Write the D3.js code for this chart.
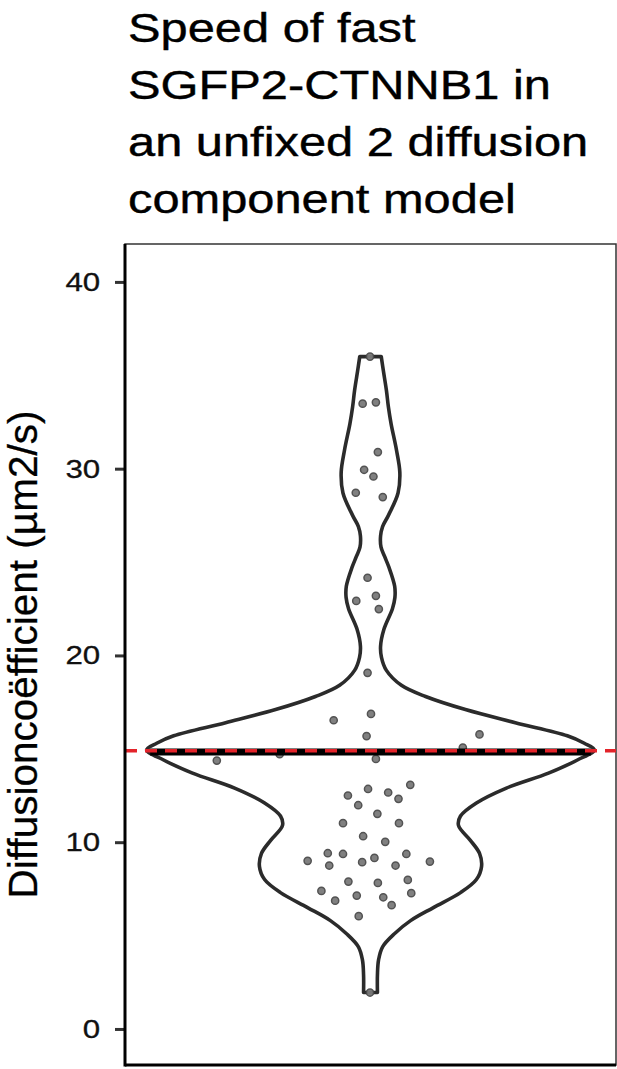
<!DOCTYPE html>
<html lang="en">
  <head>
    <meta charset="UTF-8" />
    <title>Speed of fast SGFP2-CTNNB1</title>
    <script src="https://d3js.org/d3.v7.min.js"></script>
    <style>
      body {
        margin: 0;
        background: white;
        font-family: 'Liberation Sans', Arial, sans-serif;
      }
      svg {
        display: block;
      }
    </style>
  </head>
  <body>
    <svg width="617" height="1069"></svg>

    <script>
      const titleLines = [
        'Speed of fast',
        'SGFP2-CTNNB1 in',
        'an unfixed 2 diffusion',
        'component model',
      ];
      const yLabel = 'Diffusioncoëfficient (µm2/s)';
      const yTicks = [0, 10, 20, 30, 40];
      const group = 'fast';

      // diffusion coefficients of each cell (µm2/s) and their horizontal jitter
      const diffValues = [
        36.0, 33.48, 33.55, 30.89, 29.94, 29.58, 28.71, 28.48, 24.16, 23.19,
        22.92, 22.48, 19.07, 16.87, 16.53, 15.68, 15.77, 15.07, 14.71, 14.37,
        14.46, 13.07, 12.85, 12.66, 12.5, 12.32, 11.98, 11.52, 11.02, 11.02,
        10.32, 10.02, 9.41, 9.37, 9.37, 9.0, 9.16, 8.93, 8.96, 8.75, 8.75,
        7.89, 7.82, 7.98, 7.39, 7.14, 7.27, 6.87, 7.05, 6.63, 6.04, 1.95,
      ];
      const jitter = [
        -0.001, -0.016, 0.011, 0.015, -0.013, 0.006, -0.03, 0.025, -0.006,
        0.011, -0.029, 0.017, -0.006, 0.001, -0.075, -0.008, 0.222, 0.188,
        -0.185, -0.313, 0.011, 0.081, -0.005, 0.036, -0.046, 0.057, -0.025,
        0.014, -0.056, 0.058, -0.015, 0.03, -0.087, -0.056, 0.073, -0.128,
        0.008, -0.017, 0.121, -0.084, 0.051, -0.045, 0.015, 0.076, -0.1,
        -0.028, 0.083, -0.072, 0.026, 0.043, -0.024, -0.001,
      ];

      // violin outline: relative density at each value
      const profileValues = [
        36.0, 35.2, 34.2, 33.3, 32.4, 31.0, 29.8, 28.7, 27.5, 26.9, 26.4, 25.8,
        25.3, 24.7, 23.7, 23.1, 22.5, 21.4, 20.5, 19.9, 19.2, 18.4, 17.8, 17.1,
        16.4, 15.7, 15.3, 14.94, 14.4, 13.7, 12.9, 12.1, 11.4, 10.9, 10.1, 9.4,
        8.7, 8.0, 7.3, 6.5, 5.8, 5.1, 4.4, 3.7, 2.9, 1.95,
      ];
      const profileDensity = [
        0.048, 0.058, 0.071, 0.08, 0.092, 0.116, 0.131, 0.123, 0.08, 0.054,
        0.045, 0.047, 0.063, 0.083, 0.108, 0.109, 0.098, 0.06, 0.045, 0.049,
        0.071, 0.138, 0.246, 0.424, 0.647, 0.879, 0.955, 1.0, 0.924, 0.795,
        0.607, 0.473, 0.402, 0.393, 0.446, 0.487, 0.496, 0.473, 0.402, 0.281,
        0.179, 0.107, 0.054, 0.036, 0.031, 0.031,
      ];

      const refValue = 14.9;

      const svg = d3.select('svg');
      const panel = { left: 125, right: 616, top: 244, bottom: 1065 };

      const y = d3
        .scaleLinear()
        .domain([-1.93, 42.03])
        .range([panel.bottom, panel.top]);

      const x = d3
        .scaleBand()
        .domain([group])
        .range([panel.left, panel.right]);

      const cx = x(group) + x.bandwidth() / 2;

      const w = d3
        .scaleLinear()
        .domain([0, 1])
        .range([0, x.bandwidth() * 0.456]);

      const densityAt = d3
        .scaleLinear()
        .domain(profileValues)
        .range(profileDensity)
        .clamp(true);

      // title
      const title = svg
        .append('g')
        .attr('transform', 'translate(128,0) scale(1.22,1)');
      title
        .selectAll('text')
        .data(titleLines)
        .join('text')
        .attr('x', 0)
        .attr('y', (d, i) => 42 + i * 57)
        .attr('font-size', 40)
        .attr('fill', '#000')
        .attr('stroke', '#000')
        .attr('stroke-width', 0.4)
        .text((d) => d);

      // panel border
      svg
        .append('rect')
        .attr('x', panel.left)
        .attr('y', panel.top)
        .attr('width', panel.right - panel.left)
        .attr('height', panel.bottom - panel.top)
        .attr('fill', 'white')
        .attr('stroke', '#333')
        .attr('stroke-width', 1.5);

      // violin
      const profile = profileValues.map((v, i) => ({
        v: v,
        d: profileDensity[i],
      }));

      const area = d3
        .area()
        .curve(d3.curveCatmullRom.alpha(0.5))
        .y((d) => y(d.v))
        .x0((d) => cx - w(d.d))
        .x1((d) => cx + w(d.d));

      svg
        .append('path')
        .datum(profile)
        .attr('fill', 'white')
        .attr('stroke', '#2b2b2b')
        .attr('stroke-width', 3.6)
        .attr('stroke-linejoin', 'round')
        .attr('d', area);

      // points
      svg
        .append('g')
        .selectAll('circle')
        .data(diffValues)
        .join('circle')
        .attr('cx', (d, i) => cx + jitter[i] * x.bandwidth())
        .attr('cy', (d) => y(d))
        .attr('r', 3.6)
        .attr('fill', '#7a7a7a')
        .attr('stroke', '#4a4a4a')
        .attr('stroke-width', 1.5)
        .attr('opacity', 0.95);

      // mean line across the violin
      const meanValue = d3.mean(diffValues);
      const meanHalf = w(densityAt(meanValue));
      svg
        .append('line')
        .attr('x1', cx - meanHalf)
        .attr('x2', cx + meanHalf)
        .attr('y1', y(meanValue))
        .attr('y2', y(meanValue))
        .attr('stroke', '#000')
        .attr('stroke-width', 7);

      // reference line
      svg
        .append('line')
        .attr('x1', panel.left)
        .attr('x2', panel.right)
        .attr('y1', y(refValue))
        .attr('y2', y(refValue))
        .attr('stroke', '#e3232a')
        .attr('stroke-width', 3.6)
        .attr('stroke-dasharray', '12 8');

      // y axis
      const yAxis = svg
        .append('g')
        .attr('transform', `translate(${panel.left},0)`)
        .call(d3.axisLeft(y).tickValues(yTicks).tickSize(10).tickPadding(10));
      yAxis.select('.domain').remove();
      yAxis.selectAll('.tick line').attr('stroke', '#333').attr('stroke-width', 3);
      yAxis
        .selectAll('.tick text')
        .attr('font-size', 26.5)
        .attr('font-family', "'Liberation Sans', Arial, sans-serif")
        .attr('fill', '#111')
        .attr('stroke', '#111')
        .attr('stroke-width', 0.3)
        .attr('x', -21)
        .attr('transform', 'scale(1.18,1)');

      // axis lines
      svg
        .append('line')
        .attr('x1', panel.left)
        .attr('x2', panel.left)
        .attr('y1', panel.top)
        .attr('y2', panel.bottom + 1.5)
        .attr('stroke', '#000')
        .attr('stroke-width', 3);
      svg
        .append('line')
        .attr('x1', panel.left)
        .attr('x2', panel.right)
        .attr('y1', panel.bottom)
        .attr('y2', panel.bottom)
        .attr('stroke', '#000')
        .attr('stroke-width', 3);

      svg
        .append('text')
        .attr('transform', `translate(37,${(panel.top + panel.bottom) / 2}) rotate(-90)`)
        .attr('text-anchor', 'middle')
        .attr('font-size', 40.5)
        .attr('fill', '#000')
        .attr('stroke', '#000')
        .attr('stroke-width', 0.3)
        .text(yLabel);
    </script>
  </body>
</html>
